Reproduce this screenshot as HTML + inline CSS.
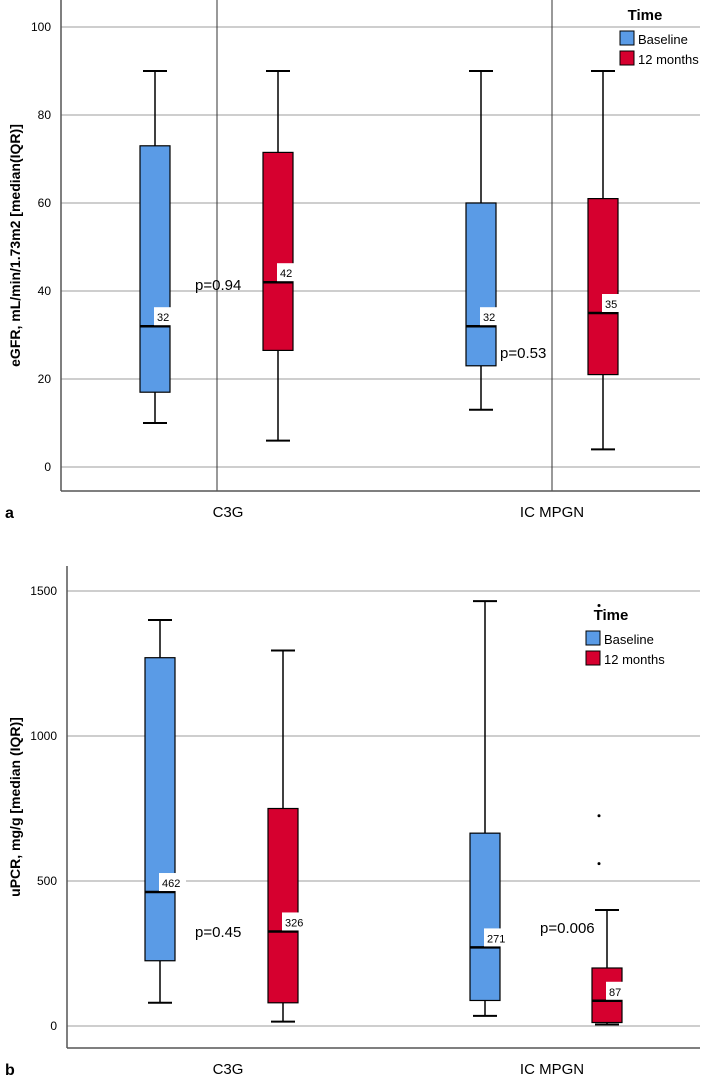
<!DOCTYPE html>
<html><head><meta charset="utf-8"><style>
body{margin:0;background:#fff;width:707px;height:1076px;overflow:hidden;font-family:"Liberation Sans",Arial,sans-serif}
</style></head><body>
<svg id="c" width="707" height="1076" xmlns="http://www.w3.org/2000/svg" font-family="Liberation Sans, Arial, sans-serif"></svg>
<script>
const groups=["C3G","IC MPGN"];
const seriesNames=["Baseline","12 months"];
// eGFR [min,q1,median,q3,max]
const egfrBase=[[10,17,32,73,90],[13,23,32,60,90]];
const egfr12=[[6,26.5,42,71.5,90],[4,21,35,61,90]];
const egfrMedLabels=[["32","42"],["32","35"]];
const egfrTicks=[0,20,40,60,80,100];
const egfrP=["p=0.94","p=0.53"];
// uPCR
const upcrBase=[[80,225,462,1270,1400],[35,88,271,665,1465]];
const upcr12=[[15,80,326,750,1295],[5,12,87,200,400]];
const upcrMedLabels=[["462","326"],["271","87"]];
const upcrOutliers=[[],[560,725,1450]];
const upcrTicks=[0,500,1000,1500];
const upcrP=["p=0.45","p=0.006"];

const svg=document.getElementById('c');
const NS="http://www.w3.org/2000/svg";
function mk(t,a,name,parent){const e=document.createElementNS(NS,t);for(const k in a)e.setAttribute(k,a[k]);


(parent||svg).appendChild(e);return e;}
function txt(x,y,s,name,extra){const e=mk('text',Object.assign({x:x,y:y,'font-size':14,fill:'#000'},extra||{}),name);e.textContent=s;return e;}

function chart(o){
  const y=v=>o.y0+(v-o.vmin)*(o.y1-o.y0)/(o.vmax-o.vmin);
  o.ticks.forEach(t=>{
    mk('line',{x1:o.left,x2:700,y1:y(t),y2:y(t),stroke:'#bdbdbd','stroke-width':1.5},'gridline');
    txt(o.left-10,y(t)+4,String(t),'y-tick-label',{'text-anchor':'end','font-size':12});
  });
  if(o.vlines)o.vlines.forEach(vx=>mk('line',{x1:vx,x2:vx,y1:o.top,y2:o.bottom,stroke:'#333','stroke-width':1},'reference-line'));
  mk('line',{x1:o.left,x2:o.left,y1:o.top,y2:o.bottom,stroke:'#555','stroke-width':1.5},'y-axis');
  mk('line',{x1:o.left,x2:700,y1:o.bottom,y2:o.bottom,stroke:'#555','stroke-width':1.5},'x-axis');
  const yt=txt(20,(o.top+o.bottom)/2,o.title,'y-axis-title',{'font-weight':'bold','font-size':14,'text-anchor':'middle'});
  yt.setAttribute('transform','rotate(-90 20 '+((o.top+o.bottom)/2)+')');
  groups.forEach((g,i)=>{
    txt(o.catX[i],o.bottom+26,g,'x-category-label',{'text-anchor':'middle','font-size':15});
    [o.base,o.m12].forEach((ser,si)=>{
      const d=ser[i],cx=o.boxX[i][si],w=30,l=cx-w/2;
      mk('line',{x1:cx,x2:cx,y1:y(d[0]),y2:y(d[4]),stroke:'#000','stroke-width':1.5},'whisker');
      mk('line',{x1:cx-12,x2:cx+12,y1:y(d[0]),y2:y(d[0]),stroke:'#000','stroke-width':2},'whisker-cap');
      mk('line',{x1:cx-12,x2:cx+12,y1:y(d[4]),y2:y(d[4]),stroke:'#000','stroke-width':2},'whisker-cap');
      mk('rect',{x:l,y:y(d[3]),width:w,height:y(d[1])-y(d[3]),fill:si?'#d6002f':'#5a9be6',stroke:'#000','stroke-width':1.2},'box-'+(si?'12-months':'baseline'));
      mk('line',{x1:l,x2:l+w,y1:y(d[2]),y2:y(d[2]),stroke:'#000','stroke-width':2.5},'median-line');
      mk('rect',{x:cx-1,y:y(d[2])-19,width:o.medLab[i][si].length*7+6,height:18,fill:'#fff'},'median-label-bg');
      txt(cx+2,y(d[2])-5,o.medLab[i][si],'median-label',{'font-size':11});
    });
    txt(o.pX[i],o.pY[i],o.p[i],'p-value-label',{'font-size':15});
  });
  if(o.out)o.out.forEach((arr,i)=>arr.forEach(v=>mk('circle',{cx:o.boxX[i][1]-8,cy:y(v),r:1.5,fill:'#000'},'outlier')));
  txt(5,o.bottom+27,o.letter,'panel-letter',{'font-weight':'bold','font-size':16});
  txt(o.legX+25,o.legY,'Time','legend-title',{'font-weight':'bold','font-size':15,'text-anchor':'middle'});
  seriesNames.forEach((s,k)=>{
    mk('rect',{x:o.legX,y:o.legY+11+k*20,width:14,height:14,fill:k?'#d6002f':'#5a9be6',stroke:'#000','stroke-width':1},'legend-swatch');
    txt(o.legX+18,o.legY+24+k*20,s,'legend-entry',{'font-size':13});
  });
}
chart({y0:467,y1:27,vmin:0,vmax:100,top:0,bottom:491,left:61,ticks:egfrTicks,title:'eGFR, mL/min/1.73m2 [median(IQR)]',
  vlines:[217,552],catX:[228,552],boxX:[[155,278],[481,603]],base:egfrBase,m12:egfr12,medLab:egfrMedLabels,
  p:egfrP,pX:[195,500],pY:[290,358],letter:'a',legX:620,legY:20});
chart({y0:1026,y1:591,vmin:0,vmax:1500,top:566,bottom:1048,left:67,ticks:upcrTicks,title:'uPCR, mg/g [median (IQR)]',
  catX:[228,552],boxX:[[160,283],[485,607]],base:upcrBase,m12:upcr12,medLab:upcrMedLabels,out:upcrOutliers,
  p:upcrP,pX:[195,540],pY:[937,933],letter:'b',legX:586,legY:620});
</script>
</body></html>
